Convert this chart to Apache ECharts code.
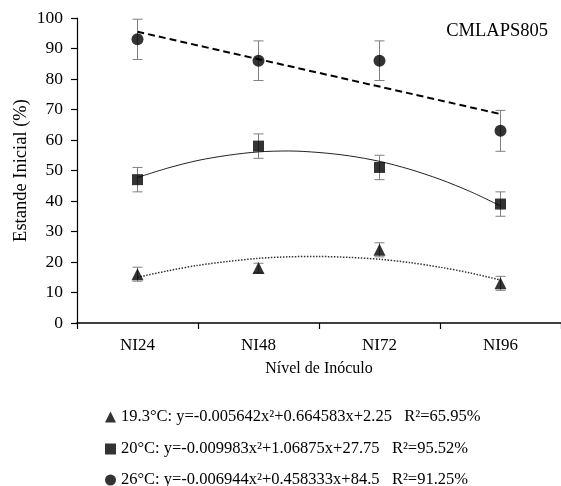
<!DOCTYPE html>
<html>
<head>
<meta charset="utf-8">
<script src="https://cdn.jsdelivr.net/npm/echarts@6/dist/echarts.min.js"></script>
<style>
  html, body { margin: 0; padding: 0; background: #fff; }
  #chart { width: 561px; height: 486px; }
</style>
</head>
<body>
<div id="chart"></div>
<script>
// Inoculum levels (categories) and their numeric positions for the trend curves
var categories = ['NI24', 'NI48', 'NI72', 'NI96'];

// Mean initial stand (%) per temperature, with error half-widths
var t193Mean = [16, 18, 24, 13];
var t193Err = [2.3, 1.6, 2.3, 2.3];
var t20Mean = [47, 58, 51, 39];
var t20Err = [4, 4, 4, 4];
var t26Mean = [93, 86, 86, 63];
var t26Err = [6.6, 6.5, 6.5, 6.7];

// Fitted trend curves, sampled along the inoculum level
var trendX = [24, 30, 36, 42, 48, 54, 60, 66, 72, 78, 84, 90, 96];
var t193Trend = [15.0, 17.1, 18.9, 20.2, 21.2, 21.7, 21.8, 21.5, 20.9, 19.8, 18.3, 16.4, 14.1];
var t20Trend = [47.7, 50.8, 53.3, 55.0, 56.1, 56.4, 55.9, 54.8, 53.0, 50.4, 47.1, 43.1, 38.4];
var t26TrendX = [24, 96];
var t26Trend = [95.5, 68.5];

var yTicks = { min: 0, max: 100, interval: 10 };

var labels = [
  '19.3°C: y=-0.005642x²+0.664583x+2.25\u00a0\u00a0\u00a0R²=65.95%',
  '20°C: y=-0.009983x²+1.06875x+27.75\u00a0\u00a0\u00a0R²=95.52%',
  '26°C: y=-0.006944x²+0.458333x+84.5\u00a0\u00a0\u00a0R²=91.25%'
];
var icons = ['triangle', 'rect', 'circle'];

var FONT = "'Liberation Serif', 'Times New Roman', serif";

function pairs(xs, ys) { return xs.map(function (x, i) { return [x, ys[i]]; }); }
function errData(means, errs) {
  return means.map(function (m, i) { return [i, m - errs[i], m + errs[i]]; });
}

function errorBars(name, means, errs) {
  return {
    type: 'custom',
    name: name + '-err',
    xAxisIndex: 0,
    yAxisIndex: 0,
    z: 2,
    silent: true,
    data: errData(means, errs),
    renderItem: function (params, api) {
      var x = api.value(0);
      var lo = api.coord([x, api.value(1)]);
      var hi = api.coord([x, api.value(2)]);
      var half = 5;
      var style = { stroke: '#808080', lineWidth: 1, fill: null };
      return {
        type: 'group',
        children: [
          { type: 'line', shape: { x1: lo[0], y1: lo[1], x2: hi[0], y2: hi[1] }, style: style },
          { type: 'line', shape: { x1: lo[0] - half, y1: lo[1], x2: lo[0] + half, y2: lo[1] }, style: style },
          { type: 'line', shape: { x1: hi[0] - half, y1: hi[1], x2: hi[0] + half, y2: hi[1] }, style: style }
        ]
      };
    }
  };
}

function points(name, means, symbol, size) {
  return {
    type: 'scatter',
    name: name,
    xAxisIndex: 0,
    yAxisIndex: 0,
    symbol: symbol,
    symbolSize: size,
    z: 5,
    itemStyle: { color: '#000' },
    data: means
  };
}

function trend(xs, ys, lineStyle) {
  return {
    type: 'line',
    xAxisIndex: 1,
    yAxisIndex: 0,
    smooth: 0.3,
    symbol: 'none',
    z: 3,
    silent: true,
    lineStyle: lineStyle,
    data: pairs(xs, ys)
  };
}

// One single-row legend per temperature, stacked under the plot
var legendCenters = [417, 449, 480];
var legends = labels.map(function (name, i) {
  return {
    orient: 'horizontal',
    left: 105,
    top: legendCenters[i] - 9,
    padding: 0,
    itemWidth: 11,
    itemHeight: 11,
    selectedMode: false,
    data: [{ name: name, icon: icons[i] }],
    textStyle: { fontFamily: FONT, fontSize: 16.5, color: '#000', height: 18, lineHeight: 18 }
  };
});

var chart = echarts.init(document.getElementById('chart'), null, { renderer: 'canvas' });
chart.setOption({
  animation: false,
  backgroundColor: '#fff',
  title: {
    text: 'CMLAPS805',
    right: 8,
    top: 17,
    textStyle: { fontFamily: FONT, fontSize: 18.5, fontWeight: 'normal', color: '#000' }
  },
  grid: { left: 77, top: 18, width: 494, height: 305, containLabel: false },
  legend: legends,
  xAxis: [
    {
      type: 'category',
      data: categories,
      boundaryGap: true,
      axisLine: { lineStyle: { color: '#000', width: 1.5 } },
      axisTick: { show: true, length: 6, inside: false, lineStyle: { color: '#000', width: 1.2 } },
      axisLabel: { fontFamily: FONT, fontSize: 17, color: '#000', margin: 14 },
      name: 'Nível de Inóculo',
      nameLocation: 'middle',
      nameGap: 38,
      nameTextStyle: { fontFamily: FONT, fontSize: 16, color: '#000' },
      splitLine: { show: false }
    },
    {
      type: 'value',
      min: 12,
      max: 108,
      show: false
    }
  ],
  yAxis: {
    type: 'value',
    min: yTicks.min,
    max: yTicks.max,
    interval: yTicks.interval,
    axisLine: { show: true, lineStyle: { color: '#000', width: 1.2 } },
    axisTick: { show: true, length: 6, lineStyle: { color: '#000', width: 1.2 } },
    axisLabel: { fontFamily: FONT, fontSize: 17.5, color: '#000', margin: 14 },
    splitLine: { show: false },
    name: 'Estande Inicial (%)',
    nameLocation: 'middle',
    nameGap: 46,
    nameMoveOverlap: false,
    nameRotate: 90,
    nameTextStyle: { fontFamily: FONT, fontSize: 18.5, color: '#000' }
  },
  series: [
    trend(trendX, t193Trend, { color: '#333', width: 1.5, type: [1.5, 1.5] }),
    trend(trendX, t20Trend, { color: '#222', width: 1 }),
    trend(t26TrendX, t26Trend, { color: '#000', width: 2, type: [7, 4] }),
    errorBars('19.3', t193Mean, t193Err),
    errorBars('20', t20Mean, t20Err),
    errorBars('26', t26Mean, t26Err),
    points(labels[0], t193Mean, 'triangle', 12),
    points(labels[1], t20Mean, 'rect', 11),
    points(labels[2], t26Mean, 'circle', 12)
  ]
});
</script>
</body>
</html>
